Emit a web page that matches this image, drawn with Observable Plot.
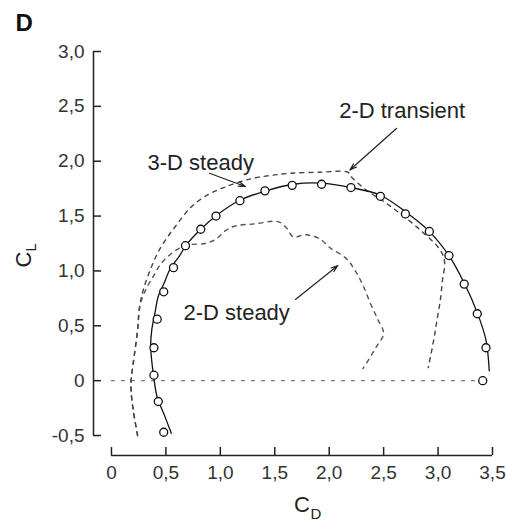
<!DOCTYPE html>
<html><head><meta charset="utf-8">
<script src="https://cdn.jsdelivr.net/npm/d3@7"></script>
<script src="https://cdn.jsdelivr.net/npm/@observablehq/plot@0.6"></script>
<style>body{margin:0;background:#fff}</style>
</head><body><div id="chart"></div>
<script>
// Experimental points (circles)
const expCD = [0.48,0.43,0.39,0.39,0.42,0.48,0.57,0.68,0.82,0.96,1.18,1.41,1.66,1.93,2.20,2.47,2.70,2.92,3.10,3.24,3.36,3.44,3.41];
const expCL = [-0.47,-0.19,0.05,0.30,0.56,0.81,1.03,1.23,1.38,1.50,1.64,1.73,1.78,1.79,1.76,1.68,1.52,1.36,1.14,0.88,0.61,0.30,0.00];
// Solid fitted curve (3-D steady)
const fitCD = [0.55,0.48,0.42,0.39,0.37,0.36,0.37,0.40,0.43,0.48,0.54,0.62,0.69,0.82,0.97,1.17,1.42,1.67,1.93,2.20,2.47,2.70,2.91,3.10,3.24,3.36,3.44,3.47];
const fitCL = [-0.48,-0.30,-0.15,0.02,0.18,0.32,0.46,0.62,0.77,0.88,1.02,1.13,1.24,1.38,1.51,1.64,1.73,1.79,1.80,1.76,1.69,1.54,1.37,1.14,0.89,0.62,0.37,0.09];
// 2-D transient (outer dashed)
const transCD = [0.24,0.20,0.18,0.18,0.20,0.24,0.26,0.29,0.36,0.45,0.59,0.73,0.86,1.03,1.28,1.46,1.64,1.92,2.17,2.21,2.35,2.49,2.63,2.84,3.02,3.06,3.04,3.02,2.99,2.96,2.91];
const transCL = [-0.50,-0.27,-0.09,0.00,0.16,0.46,0.68,0.82,1.02,1.21,1.41,1.58,1.68,1.76,1.84,1.87,1.89,1.90,1.90,1.85,1.73,1.64,1.54,1.37,1.19,1.08,0.91,0.73,0.55,0.37,0.12];
// 2-D steady (inner dashed)
const steadyCD = [0.24,0.20,0.18,0.18,0.20,0.24,0.26,0.32,0.39,0.45,0.54,0.63,0.73,0.86,0.96,1.05,1.14,1.32,1.53,1.61,1.67,1.78,1.90,2.01,2.16,2.24,2.31,2.38,2.45,2.50,2.44,2.38,2.31];
const steadyCL = [-0.50,-0.27,-0.09,0.00,0.16,0.46,0.68,0.84,0.96,1.06,1.15,1.21,1.24,1.25,1.29,1.37,1.41,1.43,1.45,1.39,1.31,1.33,1.30,1.21,1.11,1.00,0.87,0.70,0.55,0.43,0.32,0.22,0.11];
// Zero-lift reference line
const zeroCD = [0, 3.41];
const zeroCL = [0, 0];
// Annotations
const labelText = ["3\u2011D steady", "2\u2011D transient", "2\u2011D steady"];
const labelCD = [0.82, 2.67, 1.15];
const labelCL = [1.98, 2.46, 0.62];
const arrowCD1 = [0.90, 2.62, 1.69];
const arrowCL1 = [1.89, 2.30, 0.74];
const arrowCD2 = [1.23, 2.19, 2.08];
const arrowCL2 = [1.77, 1.92, 1.05];
// Ticks
const xTicks = [0, 0.5, 1.0, 1.5, 2.0, 2.5, 3.0, 3.5];
const yTicks = [-0.5, 0, 0.5, 1.0, 1.5, 2.0, 2.5, 3.0];

const zip = (a, b) => a.map((v, i) => ({cd: v, cl: b[i]}));
const exp = zip(expCD, expCL);
const fit = zip(fitCD, fitCL);
const trans = zip(transCD, transCL);
const steady = zip(steadyCD, steadyCL);
const zero = zip(zeroCD, zeroCL);
const labels = labelText.map((t, i) => ({t, cd: labelCD[i], cl: labelCL[i]}));
const arrows = arrowCD1.map((v, i) => ({x1: v, y1: arrowCL1[i], x2: arrowCD2[i], y2: arrowCL2[i]}));

const fmt = d => d === 0 ? "0" : d.toFixed(1).replace(".", ",");
const font = "'Liberation Sans', Arial, Helvetica, sans-serif";
const xMin = -0.165, yMin = -0.682;

const plot = Plot.plot({
  width: 506, height: 525,
  marginLeft: 93, marginRight: 14, marginTop: 51, marginBottom: 70,
  x: {domain: [xMin, 3.5]},
  y: {domain: [yMin, 3.0]},
  style: {fontFamily: font, fontSize: "19px", color: "#222", background: "white"},
  marks: [
    Plot.ruleX([xMin], {y1: yTicks[0], y2: yTicks[yTicks.length - 1], stroke: "#222", strokeWidth: 1.5}),
    Plot.ruleY([yMin], {x1: xTicks[0], x2: xTicks[xTicks.length - 1], stroke: "#222", strokeWidth: 1.5}),
    Plot.axisY({ticks: yTicks, tickSize: -8, tickPadding: 17, tickFormat: fmt, label: null, strokeWidth: 1.5, fill: "#333"}),
    Plot.axisX({ticks: xTicks, tickSize: -8, tickPadding: 18, tickFormat: fmt, label: null, strokeWidth: 1.5, fill: "#333"}),
    Plot.line(zero, {x: "cd", y: "cl", stroke: "#777", strokeWidth: 1.2, strokeDasharray: "3,7"}),
    Plot.line(steady, {x: "cd", y: "cl", stroke: "#555", strokeWidth: 1.4, strokeDasharray: "4,5", curve: "catmull-rom"}),
    Plot.line(trans, {x: "cd", y: "cl", stroke: "#444", strokeWidth: 1.4, strokeDasharray: "4,5", curve: "catmull-rom"}),
    Plot.line(fit, {x: "cd", y: "cl", stroke: "#111", strokeWidth: 1.3, curve: "catmull-rom"}),
    Plot.dot(exp, {x: "cd", y: "cl", r: 4, stroke: "#111", fill: "white", strokeWidth: 1.3}),
    Plot.arrow(arrows, {x1: "x1", y1: "y1", x2: "x2", y2: "y2", stroke: "#222", strokeWidth: 1.2, headLength: 9, headAngle: 35}),
    Plot.text(labels, {x: "cd", y: "cl", text: "t", fontSize: 22, fill: "#222"}),
    Plot.text(["C"], {text: d => d, frameAnchor: "left", dx: -70, dy: 14, rotate: -90, fontSize: 22, fill: "#222"}),
    Plot.text(["L"], {text: d => d, frameAnchor: "left", dx: -62, dy: -2, rotate: -90, fontSize: 15, fill: "#222"}),
    Plot.text(["C"], {text: d => d, frameAnchor: "bottom", dx: 9, dy: 56, fontSize: 22, fill: "#222"}),
    Plot.text(["D"], {text: d => d, frameAnchor: "bottom", dx: 23, dy: 63, fontSize: 15, fill: "#222"}),
    Plot.text(["D"], {text: d => d, frameAnchor: "top-left", dx: -78, dy: -38, fontSize: 24, fontWeight: "bold", fill: "#111"})
  ]
});
document.getElementById("chart").appendChild(plot);
</script>
</body></html>
